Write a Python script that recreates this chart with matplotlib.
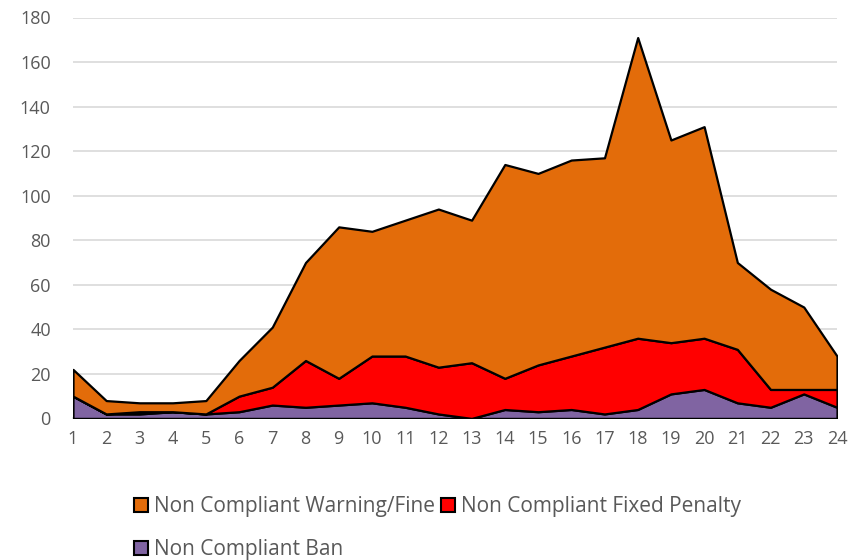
import numpy as np
import matplotlib
matplotlib.use("Agg")
import matplotlib.pyplot as plt
from matplotlib.patches import Patch

plt.rcParams['font.family'] = ['Open Sans', 'DejaVu Sans']

hours = list(range(1, 25))
ban = [10, 2, 2, 3, 2, 3, 6, 5, 6, 7, 5, 2, 0, 4, 3, 4, 2, 4, 11, 13, 7, 5, 11, 5]
fixed_penalty = [0, 0, 1, 0, 0, 7, 8, 21, 12, 21, 23, 21, 25, 14, 21, 24, 30, 32, 23, 23, 24, 8, 2, 8]
warning_fine = [12, 6, 4, 4, 6, 16, 27, 44, 68, 56, 61, 71, 64, 96, 86, 88, 85, 135, 91, 95, 39, 45, 37, 15]

labels = ["Non Compliant Ban", "Non Compliant Fixed Penalty", "Non Compliant Warning/Fine"]
colors = ["#8064A2", "#FF0000", "#E36C0A"]

fig = plt.figure(figsize=(8.56, 5.6), dpi=100)
ax = fig.add_axes([73 / 856, 1 - 418.4 / 560, (837 - 73) / 856, (418.4 - 17.5) / 560])

polys = ax.stackplot(hours, ban, fixed_penalty, warning_fine, colors=colors,
                     edgecolor="black", linewidth=1.6, zorder=3)

ax.set_xlim(1, 24)
ax.set_ylim(0, 180)
ax.set_xticks(hours)
ax.set_yticks(range(0, 181, 20))
ax.grid(axis="y", color="#D9D9D9", linewidth=1.2, zorder=0)
ax.set_axisbelow(True)
for s in ["top", "right", "left"]:
    ax.spines[s].set_visible(False)
ax.spines["bottom"].set_color("#D9D9D9")
ax.spines["bottom"].set_linewidth(1.2)
ax.tick_params(length=0, labelsize=13, labelcolor="#595959")
ax.tick_params(axis="x", pad=8)
ax.tick_params(axis="y", pad=16)

handles = [Patch(facecolor=colors[2], edgecolor="black", linewidth=1.5),
           Patch(facecolor=colors[0], edgecolor="black", linewidth=1.5),
           Patch(facecolor=colors[1], edgecolor="black", linewidth=1.5)]
leg_labels = [labels[2], labels[0], labels[1]]
fig.legend(handles, leg_labels, ncol=2, loc="upper left", bbox_to_anchor=(134 / 856, 1 - 496 / 560),
           frameon=False, fontsize=15, labelcolor="#595959", handlelength=0.65, handleheight=0.65,
           handletextpad=0.3, columnspacing=0.3, labelspacing=1.05, borderaxespad=0, borderpad=0)

plt.savefig("out.png", dpi=100)
